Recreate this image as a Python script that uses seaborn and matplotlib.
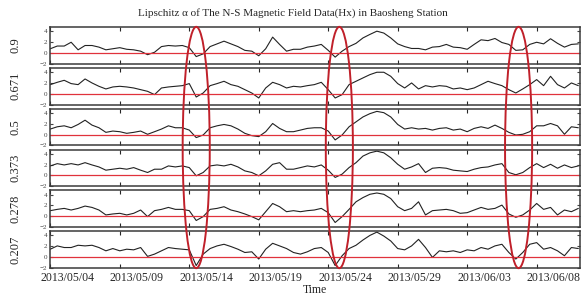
import numpy as np
import pandas as pd
import matplotlib
matplotlib.use("Agg")
import matplotlib.pyplot as plt
import matplotlib.transforms as mtransforms
from matplotlib.patches import Ellipse
import seaborn as sns

# alpha levels (one panel each, top to bottom)
alphas = ["0.9", "0.671", "0.5", "0.373", "0.278", "0.207"]

# half-day samples starting 2013/05/04 00:00
hx_090 = [0.8, 1.3, 1.3, 2.0, 0.6, 1.4, 1.4, 1.1, 0.6, 0.8, 1.0, 0.7, 0.6, 0.35, -0.3, 0.15,
          1.2, 1.4, 1.3, 1.4, 1.0, -0.65, -0.15, 1.2, 1.7, 2.2, 1.7, 1.2, 0.5, 0.35, -0.5, 0.8,
          2.95, 1.6, 0.35, 0.7, 0.7, 1.1, 1.3, 1.6, 0.5, -0.75, 0.35, 1.2, 1.8, 2.8, 3.45, 4.05,
          3.7, 2.8, 1.7, 1.2, 0.85, 0.85, 0.6, 1.1, 1.2, 1.6, 1.1, 1.0, 0.7, 1.6, 2.45, 2.3,
          2.7, 1.95, 1.6, 0.5, 0.6, 1.6, 2.0, 1.7, 2.65, 1.8, 1.1, 1.6, 1.7]
hx_0671 = [1.71, 2.14, 2.51, 1.9, 1.71, 2.76, 2.02, 1.4, 0.91, 1.28, 1.4, 1.28, 1.09, 0.78, 0.47, -0.14,
           1.09, 1.28, 1.4, 1.52, 1.9, -0.58, 0.16, 1.52, 1.9, 2.33, 1.71, 1.4, 0.78, 0.16, -0.76, 1.09,
           2.14, 1.71, 1.09, 1.4, 1.28, 1.52, 1.71, 2.14, 0.78, -0.76, -0.14, 1.71, 2.33, 2.95, 3.56, 4.0,
           4.0, 3.25, 1.9, 1.09, 2.02, 0.91, 1.52, 1.28, 1.52, 1.4, 0.91, 1.09, 0.78, 1.09, 1.71, 2.33,
           1.9, 1.52, 0.78, 0.16, 0.91, 1.71, 2.64, 1.52, 3.25, 1.71, 1.09, 2.02, 1.52]
hx_050 = [1.04, 1.46, 1.64, 1.28, 1.89, 2.68, 1.77, 1.28, 0.43, 0.67, 0.55, 0.25, 0.43, 0.67, 0.07, 0.55,
          1.04, 1.64, 1.28, 1.28, 0.85, -0.54, -0.06, 1.28, 1.64, 1.89, 1.64, 1.04, 0.25, -0.18, -0.36, 0.55,
          2.07, 1.16, 0.55, 0.55, 0.85, 1.16, 1.28, 1.28, 0.67, -0.97, -0.06, 1.46, 2.37, 3.28, 3.89, 4.31,
          4.07, 3.28, 1.89, 1.04, 1.28, 1.04, 1.16, 0.85, 1.16, 1.28, 0.85, 1.04, 0.55, 1.16, 1.46, 1.16,
          1.77, 1.16, 0.43, -0.06, 0.07, 0.55, 1.64, 1.64, 2.07, 1.64, 0.07, 1.46, 1.28]
hx_0373 = [1.77, 2.19, 1.95, 2.19, 1.95, 2.37, 1.95, 1.58, 0.98, 1.16, 1.34, 1.16, 1.46, 0.98, 0.55, 1.16,
           1.16, 1.77, 1.58, 1.77, 1.46, -0.06, 0.55, 1.77, 1.95, 1.77, 2.07, 1.58, 0.85, 0.55, -0.06, 0.85,
           2.07, 2.37, 1.16, 1.16, 1.46, 1.77, 1.58, 1.95, 0.98, -0.36, 0.25, 1.46, 2.37, 3.59, 4.19, 4.5,
           4.19, 3.28, 2.07, 1.16, 1.58, 2.19, 0.55, 1.34, 1.46, 1.34, 0.98, 0.85, 0.73, 1.16, 1.46, 1.58,
           1.95, 2.19, 0.55, 0.13, 0.55, 1.46, 2.19, 1.46, 2.07, 1.34, 1.95, 1.46, 1.77]
hx_0278 = [1.04, 1.28, 1.46, 1.16, 1.46, 1.89, 1.64, 1.16, 0.25, 0.43, 0.55, 0.25, 0.55, 1.16, -0.06, 1.04,
           1.28, 1.64, 1.28, 1.28, 1.04, -0.78, -0.06, 1.28, 1.46, 1.77, 1.16, 0.85, 0.43, -0.06, -0.66, 0.85,
           2.37, 1.77, 0.85, 1.04, 0.85, 1.04, 1.16, 1.46, 0.67, -1.15, -0.06, 1.28, 2.68, 3.46, 4.07, 4.31,
           4.07, 3.28, 1.77, 1.04, 1.46, 2.68, 0.25, 1.04, 1.16, 1.28, 1.04, 0.55, 0.67, 1.16, 1.64, 1.28,
           1.46, 2.07, 0.43, -0.18, 0.25, 1.16, 2.37, 1.28, 1.64, 0.25, 1.16, 0.85, 1.46]
hx_0207 = [1.46, 2.07, 1.77, 1.77, 2.19, 2.07, 2.19, 1.77, 1.16, 1.58, 1.16, 1.46, 1.34, 1.77, 0.13, 0.55,
           1.16, 1.77, 1.58, 1.46, 1.34, -1.57, 0.55, 1.58, 2.07, 2.37, 1.95, 1.46, 0.85, 0.98, -0.36, 1.46,
           2.55, 2.07, 1.58, 0.85, 0.55, 0.98, 1.58, 1.77, 0.85, -1.57, 0.25, 1.58, 2.19, 3.16, 4.01, 4.62,
           3.89, 2.98, 1.58, 1.34, 2.07, 3.28, 1.77, -0.06, 1.16, 0.98, 1.16, 0.85, 1.34, 1.16, 1.77, 1.46,
           2.07, 2.37, 0.85, -0.36, 0.85, 2.37, 2.68, 1.46, 1.77, 1.16, 0.25, 1.77, 1.58]
series = [hx_090, hx_0671, hx_050, hx_0373, hx_0278, hx_0207]

# reference level (red line) per panel
thresholds = [0, 0, 0, 0, 0, 0]

# marked events, days after 2013/05/04 00:00
events = [10.5, 20.8, 33.7]

tick_days = [0, 5, 10, 15, 20, 25, 30, 35]
tick_labels = ["2013/05/04", "2013/05/09", "2013/05/14", "2013/05/19",
               "2013/05/24", "2013/05/29", "2013/06/03", "2013/06/08"]

sns.set_style("ticks")
plt.rcParams["font.family"] = ["Liberation Serif", "DejaVu Serif"]

fig, axes = plt.subplots(6, 1, figsize=(5.85, 2.98), dpi=100, sharex=True,
                         gridspec_kw={"hspace": 0.11})
fig.subplots_adjust(left=0.086, right=0.991, top=0.909, bottom=0.101)

for ax, name, vals, thr in zip(axes, alphas, series, thresholds):
    df = pd.DataFrame({"day": np.arange(len(vals)) * 0.5, "hx": vals})
    sns.lineplot(data=df, x="day", y="hx", ax=ax, color="#222222", lw=0.8)
    ax.axhline(thr, color="#e0323c", lw=0.9)
    ax.set_xlim(0, 38.1)
    ax.set_ylim(-2, 4.8)
    ax.set_yticks([-2, 0, 2, 4])
    ax.tick_params(axis="y", labelsize=5, colors="#444444", length=2.5, direction="in",
                   right=True, pad=2)
    ax.tick_params(axis="x", direction="in", top=True, length=3, labelsize=8.5, pad=3)
    ax.set_ylabel(name, fontsize=9, labelpad=13)
    ax.set_xlabel("")
    for sp in ax.spines.values():
        sp.set_linewidth(1.1)
        sp.set_color("#3a3a3a")

axes[-1].set_xticks(tick_days)
axes[-1].set_xticklabels(tick_labels)
shift = mtransforms.ScaledTranslation(0.17, 0, fig.dpi_scale_trans)
for lab in axes[-1].get_xticklabels():
    lab.set_transform(lab.get_transform() + shift)
axes[-1].set_xlabel("Time", fontsize=8.5, labelpad=0)

fig.suptitle("Lipschitz α of The N-S Magnetic Field Data(Hx) in Baosheng Station",
             fontsize=8, y=0.972)

# red ellipses spanning all panels
blend = mtransforms.blended_transform_factory(axes[-1].transData, fig.transFigure)
for d in events:
    fig.add_artist(Ellipse((d, 0.505), width=1.95, height=0.81, transform=blend,
                           fill=False, edgecolor="#c0202a", lw=1.4, clip_on=False))

fig.savefig("out.png", dpi=100)
